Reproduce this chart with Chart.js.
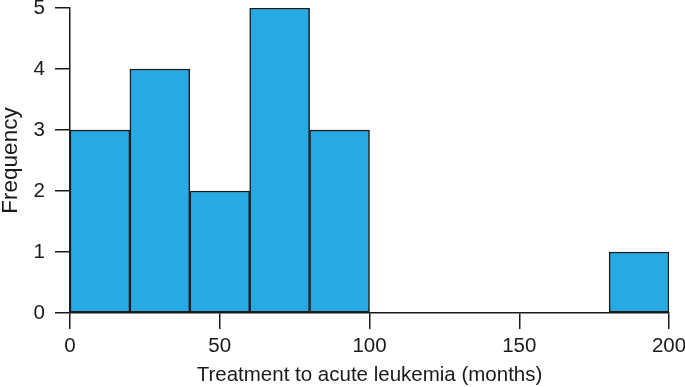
<!DOCTYPE html>
<html><head><meta charset="utf-8">
<script src="https://cdn.jsdelivr.net/npm/chart.js@4.4.0/dist/chart.umd.min.js"></script>
<style>html,body{margin:0;padding:0;background:#fff}#wrap{width:685px;height:387px}</style>
</head><body><div id="wrap"><canvas id="c" width="685" height="387"></canvas></div>
<script>
const binCenters = [10, 30, 50, 70, 90, 110, 130, 150, 170, 190];
const frequencies = [3, 4, 2, 5, 3, 0, 0, 0, 0, 1];
const xTickValues = [0, 50, 100, 150, 200];
const yTickValues = [0, 1, 2, 3, 4, 5];
const xTitle = 'Treatment to acute leukemia (months)';
const yTitle = 'Frequency';

const FAMILY = '"Liberation Sans", Arial, Helvetica, sans-serif';
const FONT = {family: FAMILY, size: 20.5};
const YTITLE_FONT = {family: FAMILY, size: 22.5};
const INK = '#1a1a1a';

new Chart(document.getElementById('c'), {
  type: 'bar',
  data: {
    datasets: [{
      data: binCenters.map((x, i) => ({x: x, y: frequencies[i]})),
      backgroundColor: '#27a9e1',
      borderColor: INK,
      borderWidth: 1.5,
      borderSkipped: false,
      barPercentage: 1,
      categoryPercentage: 1
    }]
  },
  options: {
    responsive: false,
    animation: false,
    events: [],
    layout: {padding: {top: 8, right: 16, left: 0, bottom: 0}},
    plugins: {legend: {display: false}, tooltip: {enabled: false}},
    scales: {
      x: {
        type: 'linear', min: 0, max: 200, offset: false,
        afterBuildTicks: s => { s.ticks = xTickValues.map(v => ({value: v})); },
        afterFit: s => { s.height = 74; s.paddingLeft = 0; s.paddingRight = 0; },
        grid: {display: true, drawOnChartArea: false, offset: false, tickLength: 16, color: INK, lineWidth: 1.5},
        border: {display: true, color: INK, width: 1.5},
        ticks: {color: INK, font: FONT, padding: 5, maxRotation: 0},
        title: {display: true, text: xTitle, color: INK, font: FONT, padding: {top: 0, bottom: -1}}
      },
      y: {
        min: 0, max: 5,
        afterBuildTicks: s => { s.ticks = yTickValues.map(v => ({value: v})); },
        afterFit: s => { s.width = 70; s.paddingTop = 0; s.paddingBottom = 0; },
        grid: {display: true, drawOnChartArea: false, tickLength: 15, color: INK, lineWidth: 1.5},
        border: {display: true, color: INK, width: 1.5},
        ticks: {color: INK, font: FONT, padding: 10},
        title: {display: true, text: yTitle, color: INK, font: YTITLE_FONT, padding: {top: -3, bottom: 0}}
      }
    }
  }
});
</script></body></html>
